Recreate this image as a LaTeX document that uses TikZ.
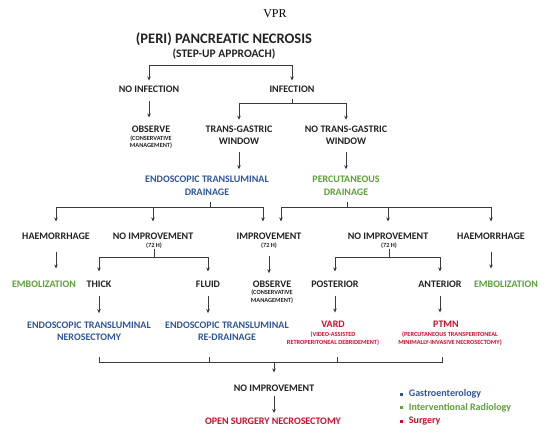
\documentclass[tikz,border=0pt]{standalone}
\usepackage{fontspec}
\setmainfont{Carlito}
\newfontfamily\vprfont{Liberation Serif}
\usetikzlibrary{arrows.meta,calc,positioning}
\definecolor{ink}{HTML}{222222}
\definecolor{wire}{HTML}{3A3A3A}
\definecolor{gastro}{HTML}{2F5597}
\definecolor{radio}{HTML}{5E9E3C}
\definecolor{surg}{HTML}{C8102E}

\begin{document}
\begin{tikzpicture}[x=1pt,y=-1pt,
   lbl/.style={font=\bfseries\fontsize{10}{12.5}\selectfont,align=center,inner sep=0pt,text=ink},
   sub/.style={font=\bfseries\fontsize{6.3}{7.5}\selectfont,align=center,inner sep=0pt,text=ink},
   line/.style={draw=wire,line width=0.9pt},
   arr/.style={line,-{Stealth[length=4pt,width=3.6pt]}},
   dot/.style={fill=#1,minimum size=3pt,inner sep=0pt}]
   \useasboundingbox (0,0) rectangle (550,439);
   % heading
   \node[font=\vprfont\fontsize{12}{14}\selectfont] (vpr) at (275,14) {VPR};
   \node[lbl,font=\bfseries\fontsize{14.5}{17}\selectfont] (title) at (224,39) {(PERI) PANCREATIC NECROSIS};
   \node[lbl,font=\bfseries\fontsize{11.5}{14}\selectfont] (title2) at (224,54) {(STEP-UP APPROACH)};
   % first levels
   \node[lbl] (noinf) at (149,89) {NO INFECTION};
   \node[lbl] (infect) at (292,89) {INFECTION};
   \node[lbl] (obs1) at (151,129) {OBSERVE};
   \node[sub] (obs1s) at (151,142) {(CONSERVATIVE\\MANAGEMENT)};
   \node[lbl] (tgw) at (239,135.5) {TRANS-GASTRIC\\WINDOW};
   \node[lbl] (ntgw) at (346,135.5) {NO TRANS-GASTRIC\\WINDOW};
   \node[lbl,text=gastro] (etd) at (207,186) {ENDOSCOPIC TRANSLUMINAL\\DRAINAGE};
   \node[lbl,text=radio] (pd) at (346,186) {PERCUTANEOUS\\DRAINAGE};
   % after drainage
   \node[lbl] (haemL) at (56,236) {HAEMORRHAGE};
   \node[lbl] (noimpL) at (153,236) {NO IMPROVEMENT};
   \node[sub] (noimpLs) at (154,246) {(72 H)};
   \node[lbl] (improv) at (269,236) {IMPROVEMENT};
   \node[sub] (improvS) at (269,246) {(72 H)};
   \node[lbl] (noimpR) at (388,236) {NO IMPROVEMENT};
   \node[sub] (noimpRs) at (389,246) {(72 H)};
   \node[lbl] (haemR) at (491,236) {HAEMORRHAGE};
   \node[lbl,text=radio] (embL) at (44,284) {EMBOLIZATION};
   \node[lbl] (thick) at (99,284) {THICK};
   \node[lbl] (fluid) at (208,284) {FLUID};
   \node[lbl] (obs2) at (272,284) {OBSERVE};
   \node[sub] (obs2s) at (272,296.5) {(CONSERVATIVE\\MANAGEMENT)};
   \node[lbl] (post) at (335,284) {POSTERIOR};
   \node[lbl] (ant) at (440,284) {ANTERIOR};
   \node[lbl,text=radio] (embR) at (506,284) {EMBOLIZATION};
   % treatments
   \node[lbl,text=gastro] (etn) at (89,331.5) {ENDOSCOPIC TRANSLUMINAL\\NEROSECTOMY};
   \node[lbl,text=gastro] (etr) at (227,331.5) {ENDOSCOPIC TRANSLUMINAL\\RE-DRAINAGE};
   \node[lbl,text=surg] (vard) at (333,324) {VARD};
   \node[sub,text=surg] (vards) at (333,338.5) {(VIDEO-ASSISTED\\RETROPERITONEAL DEBRIDEMENT)};
   \node[lbl,text=surg] (ptmn) at (446,324) {PTMN};
   \node[sub,text=surg] (ptmns) at (450,338.5) {(PERCUTANEOUS TRANSPERITONEAL\\MINIMALLY-INVASIVE NECROSECTOMY)};
   \node[lbl] (noimpB) at (274,388) {NO IMPROVEMENT};
   \node[lbl,text=surg] (open) at (273,421) {OPEN SURGERY NECROSECTOMY};
   % junctions
   \coordinate (jTop) at (222,65);
   \coordinate (jInf) at (292,103);
   \coordinate (jETD) at (210,207);
   \coordinate (jPD) at (347,207);
   \coordinate (jNIL) at (154,257);
   \coordinate (jNIR) at (389,257);
   \coordinate (jBot) at (274,362);
   \coordinate (impL) at ([xshift=-6pt]improv.north);
   \coordinate (impR) at ([xshift=12pt]improv.north);
   \coordinate (k1) at (99,357);
   \coordinate (k2) at (209,357);
   \coordinate (k3) at (337,357);
   \coordinate (k4) at (442,357);
   % brackets
   \foreach \n in {noinf,infect}
    \draw[arr,shorten >=5pt] (jTop) -| (\n);
   \draw[line,shorten <=6pt] (infect) -- (jInf);
   \foreach \n in {tgw,ntgw}
    \draw[arr,shorten >=6pt] (jInf) -| (\n);
   \draw[line,shorten <=6pt] (etd.south -| jETD) -- (jETD);
   \foreach \n in {haemL,noimpL,impL}
    \draw[arr,shorten >=11pt] (jETD) -| (\n);
   \draw[line,shorten <=6pt] (pd.south -| jPD) -- (jPD);
   \foreach \n in {impR,noimpR,haemR}
    \draw[arr,shorten >=11pt] (jPD) -| (\n);
   \draw[line] (noimpLs) -- (jNIL);
   \foreach \n in {thick,fluid}
    \draw[arr,shorten >=9pt] (jNIL) -| (\n);
   \draw[line] (noimpRs) -- (jNIR);
   \foreach \n in {post,ant}
    \draw[arr,shorten >=9pt] (jNIR) -| (\n);
   \draw[line] (k1) -- (k1 |- jBot) -- (k4 |- jBot) -- (k4);
   \draw[line] (k2) -- (k2 |- jBot);
   \draw[line] (k3) -- (k3 |- jBot);
   \draw[arr,shorten >=12pt] (jBot) -- (jBot |- noimpB.north);
   % straight steps
   \foreach \a/\b in {noinf/obs1,tgw/etd,ntgw/pd,haemL/embL,haemR/embR,improvS/obs2,
                      thick/etn,fluid/etr,post/vard,ant/ptmn,noimpB/open}
    \draw[arr] ($(\a.south)!0.5!(\a.south |- \b.north)$) ++(0,-8.5) -- ++(0,17);
   % legend
   \node[dot=gastro] (d1) at (401,394) {};
   \node[dot=radio] (d2) at (401,407.5) {};
   \node[dot=surg] (d3) at (401,421) {};
   \node[lbl,text=gastro,right=6pt of d1] (l1) {Gastroenterology};
   \node[lbl,text=radio,right=6pt of d2] (l2) {Interventional Radiology};
   \node[lbl,text=surg,right=6pt of d3] (l3) {Surgery};
\end{tikzpicture}
\end{document}
